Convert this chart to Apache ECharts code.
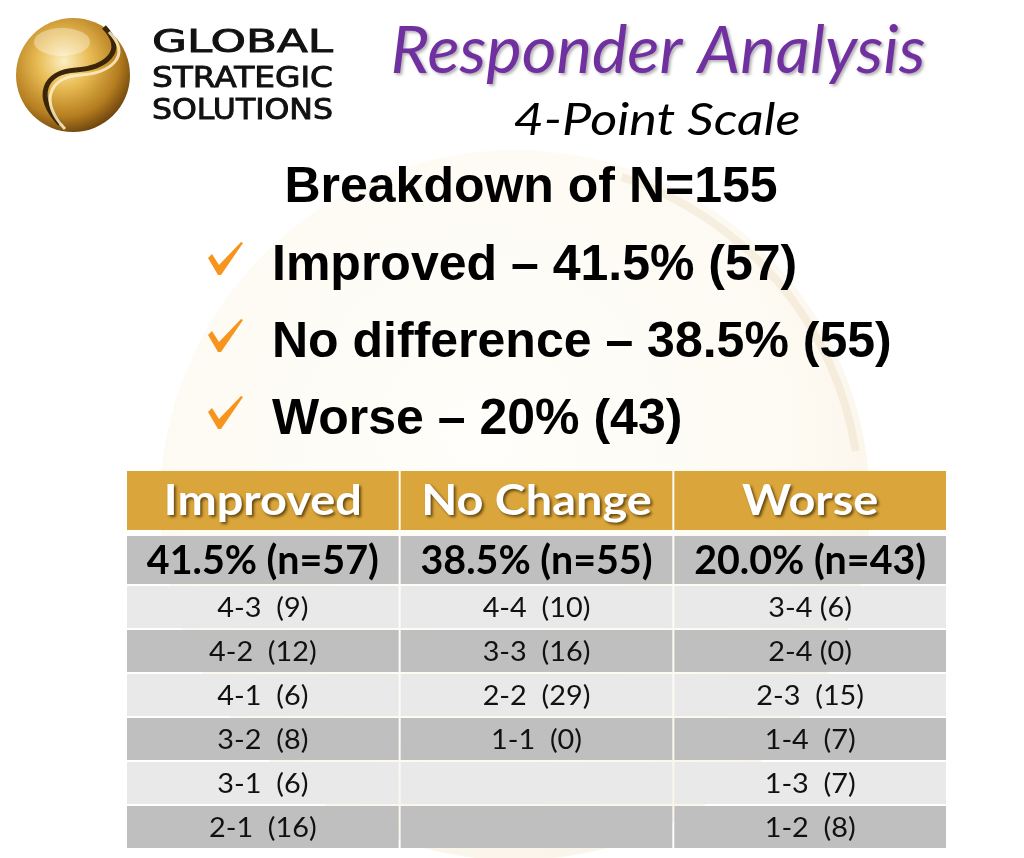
<!DOCTYPE html>
<html>
<head>
<meta charset="utf-8">
<title>Responder Analysis</title>
<script src="https://cdn.jsdelivr.net/npm/echarts@6/dist/echarts.min.js"></script>
<style>
  html, body { margin: 0; padding: 0; background: #fff; }
  #main { width: 1024px; height: 858px; }
</style>
</head>
<body>
<div id="main"></div>
<script>
// ---- data ----
var columns = ['Improved', 'No Change', 'Worse'];
var summary = ['41.5% (n=57)', '38.5% (n=55)', '20.0% (n=43)'];
var improvedCells = ['4-3  (9)', '4-2  (12)', '4-1  (6)', '3-2  (8)', '3-1  (6)', '2-1  (16)'];
var noChangeCells = ['4-4  (10)', '3-3  (16)', '2-2  (29)', '1-1  (0)', '', ''];
var worseCells = ['3-4 (6)', '2-4 (0)', '2-3  (15)', '1-4  (7)', '1-3  (7)', '1-2  (8)'];
var totalN = 155;
var bulletLabels = ['Improved', 'No difference', 'Worse'];
var bulletPct = ['41.5%', '38.5%', '20%'];
var bulletCounts = [57, 55, 43];
var logoLines = ['GLOBAL', 'STRATEGIC', 'SOLUTIONS'];

// text width helper, used to squeeze the substitute fonts to the slide's widths
var mctx = document.createElement('canvas').getContext('2d');
function measure(str, font) {
  mctx.font = font;
  return mctx.measureText(str).width;
}
function fit(str, font, w) {
  return w / measure(str, font);
}

var headFont = 'bold 42px "Lato"';
var sumFont = 'bold 41px "Lato"';
var bodyFont = '27px "Lato"';
var headScale = fit('Improved', headFont, 198);
var sumScale = fit('41.5% (n=57)', sumFont, 232);
var bodyScale = fit('4-3  (9)', bodyFont, 91);

var bodyCols = [improvedCells, noChangeCells, worseCells];
var bodyRows = ['r1', 'r2', 'r3', 'r4', 'r5', 'r6'];

function cellData(rowsPerCol) {
  var out = [];
  for (var c = 0; c < columns.length; c++) {
    for (var r = 0; r < rowsPerCol; r++) out.push([c, r]);
  }
  return out;
}

// one renderer for every table band, the look is passed in
function cellRenderer(getText, getFill, font, scale, color, shadow) {
  return function (params, api) {
    var col = api.value(0), row = api.value(1);
    var p = api.coord([col, row]);
    var s = api.size([1, 1]);
    var txt = {
      type: 'text',
      x: p[0], y: p[1] + 1,
      scaleX: scale,
      style: {
        text: getText(col, row),
        font: font,
        fill: color,
        align: 'center',
        verticalAlign: 'middle'
      }
    };
    if (shadow) {
      txt.style.textShadowColor = 'rgba(60,40,0,0.75)';
      txt.style.textShadowBlur = 3;
      txt.style.textShadowOffsetX = 2;
      txt.style.textShadowOffsetY = 2;
    }
    return {
      type: 'group',
      children: [{
        type: 'rect',
        shape: { x: p[0] - s[0] / 2 + 1, y: p[1] - s[1] / 2 + 1, width: s[0] - 2, height: s[1] - 2 },
        style: { fill: getFill(col, row) }
      }, txt]
    };
  };
}

function hiddenAxis(type, data, idx, inverse) {
  return { type: type, data: data, gridIndex: idx, inverse: !!inverse, show: false,
    axisLine: { show: false }, axisTick: { show: false }, splitLine: { show: false } };
}

// ---- slide decoration (logo, titles, bullets) ----
var graphics = [];
// faint background sphere
graphics.push({
  type: 'circle', z: -10, silent: true,
  shape: { cx: 515, cy: 505, r: 355 },
  style: {
    fill: { type: 'radial', x: 0.45, y: 0.4, r: 0.6, colorStops: [
      { offset: 0, color: 'rgba(255,252,240,0.3)' },
      { offset: 0.7, color: 'rgba(248,236,205,0.22)' },
      { offset: 1, color: 'rgba(235,210,160,0.22)' }
    ] }
  }
});
graphics.push({
  type: 'arc', z: -9, silent: true,
  shape: { cx: 515, cy: 505, r: 345, startAngle: -Math.PI * 0.4, endAngle: -Math.PI * 0.05 },
  style: { stroke: 'rgba(200,160,80,0.12)', lineWidth: 8, fill: null }
});
// logo sphere
graphics.push({
  type: 'circle', shape: { cx: 73, cy: 75, r: 57 },
  style: {
    fill: { type: 'radial', x: 0.42, y: 0.38, r: 0.65, colorStops: [
      { offset: 0, color: '#FCEFC2' },
      { offset: 0.35, color: '#E9BC55' },
      { offset: 0.75, color: '#B57D1F' },
      { offset: 1, color: '#6A420E' }
    ] }
  }
});
// the S swoosh on the logo
var swoosh = [
  { x1: 104, y1: 27, cpx1: 128, cpy1: 52, cpx2: 104, cpy2: 68, x2: 76, y2: 70 },
  { x1: 76, y1: 70, cpx1: 44, cpy1: 72, cpx2: 34, cpy2: 96, x2: 60, y2: 124 }
];
swoosh.forEach(function (seg) {
  graphics.push({ type: 'bezierCurve', shape: seg, style: { stroke: '#3B2508', lineWidth: 5, fill: null } });
  graphics.push({
    type: 'bezierCurve',
    shape: { x1: seg.x1 + 5, y1: seg.y1 + 5, cpx1: seg.cpx1 + 5, cpy1: seg.cpy1 + 5,
      cpx2: seg.cpx2 + 5, cpy2: seg.cpy2 + 5, x2: seg.x2 + 5, y2: seg.y2 + 5 },
    style: { stroke: 'rgba(255,240,200,0.85)', lineWidth: 3, fill: null }
  });
});
graphics.push({
  type: 'ellipse', shape: { cx: 62, cy: 42, rx: 28, ry: 14 },
  style: { fill: 'rgba(255,255,255,0.35)' }
});
// logo wording
var logoFonts = ['32px "DejaVu Sans"', '28px "DejaVu Sans"', '28px "DejaVu Sans"'];
var logoY = [44, 80, 112];
logoLines.forEach(function (t, i) {
  graphics.push({
    type: 'text', x: 152, y: logoY[i], scaleX: fit(t, logoFonts[i], 181),
    style: { text: t, font: logoFonts[i], fill: '#111', stroke: '#111', lineWidth: 0.9,
      align: 'left', verticalAlign: 'middle' }
  });
});
// titles
var titleFont = 'italic 65px "Lato"';
graphics.push({
  type: 'text', x: 658, y: 52, scaleX: fit('Responder Analysis', titleFont, 535),
  style: { text: 'Responder Analysis', font: titleFont, fill: '#7030A0', align: 'center', verticalAlign: 'middle',
    textShadowColor: 'rgba(0,0,0,0.3)', textShadowBlur: 3, textShadowOffsetX: 2, textShadowOffsetY: 2 }
});
var subFont = 'italic 45px "Lato"';
graphics.push({
  type: 'text', x: 657, y: 120, scaleX: fit('4-Point Scale', subFont, 287),
  style: { text: '4-Point Scale', font: subFont, fill: '#000', align: 'center', verticalAlign: 'middle' }
});
graphics.push({
  type: 'text', x: 531, y: 188,
  style: { text: 'Breakdown of N=' + totalN, font: 'bold 50px "Liberation Sans"', fill: '#000',
    align: 'center', verticalAlign: 'middle' }
});
var bulletY = [266, 343, 420];
// orange brush check mark, drawn for the first line and shifted down for the others
var checkPts = [[208, 258], [212, 254], [219, 265], [241, 242], [243, 243], [221, 275], [218, 275]];
bulletLabels.forEach(function (lab, i) {
  var dy = bulletY[i] - bulletY[0];
  graphics.push({
    type: 'polygon',
    shape: { points: checkPts.map(function (pt) { return [pt[0], pt[1] + dy]; }) },
    style: { fill: '#F7941D' }
  });
  graphics.push({
    type: 'text', x: 272, y: bulletY[i],
    style: { text: lab + ' \u2013 ' + bulletPct[i] + ' (' + bulletCounts[i] + ')',
      font: 'bold 50px "Liberation Sans"', fill: '#000', align: 'left', verticalAlign: 'middle' }
  });
});

// ---- chart ----
var option = {
  animation: false,
  backgroundColor: '#ffffff',
  graphic: graphics,
  grid: [
    { left: 126, width: 821, top: 470, height: 61 },
    { left: 126, width: 821, top: 535, height: 50 },
    { left: 126, width: 821, top: 585, height: 264 }
  ],
  xAxis: [
    hiddenAxis('category', columns, 0),
    hiddenAxis('category', columns, 1),
    hiddenAxis('category', columns, 2)
  ],
  yAxis: [
    hiddenAxis('category', ['head'], 0, true),
    hiddenAxis('category', ['sum'], 1, true),
    hiddenAxis('category', bodyRows, 2, true)
  ],
  series: [{
    type: 'custom', xAxisIndex: 0, yAxisIndex: 0,
    data: cellData(1),
    renderItem: cellRenderer(function (c) { return columns[c]; },
      function () { return '#DAA53B'; }, headFont, headScale, '#fff', true)
  }, {
    type: 'custom', xAxisIndex: 1, yAxisIndex: 1,
    data: cellData(1),
    renderItem: cellRenderer(function (c) { return summary[c]; },
      function () { return '#BFBFBF'; }, sumFont, sumScale, '#000', false)
  }, {
    type: 'custom', xAxisIndex: 2, yAxisIndex: 2,
    data: cellData(bodyRows.length),
    renderItem: cellRenderer(function (c, r) { return bodyCols[c][r]; },
      function (c, r) { return r % 2 === 0 ? '#E9E9E9' : '#BFBFBF'; }, bodyFont, bodyScale, '#111', false)
  }]
};

var chart = echarts.init(document.getElementById('main'));
chart.setOption(option);
</script>
</body>
</html>
